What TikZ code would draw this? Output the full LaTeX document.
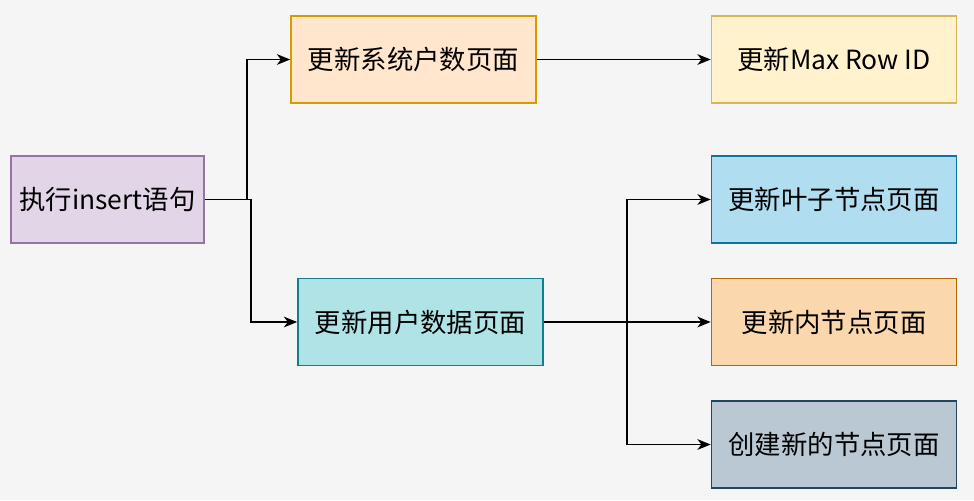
\documentclass[tikz,border=0pt]{standalone}
\usepackage{fontspec}
\setmainfont{Noto Sans CJK SC}
\usetikzlibrary{arrows.meta}
\definecolor{bg}{HTML}{F5F5F5}
\definecolor{pf}{HTML}{E1D5E7}\definecolor{ps}{HTML}{9673A6}
\definecolor{of}{HTML}{FFE6CC}\definecolor{os}{HTML}{D79B00}
\definecolor{yf}{HTML}{FFF2CC}\definecolor{ys}{HTML}{D6B656}
\definecolor{tf}{HTML}{B0E3E6}\definecolor{ts}{HTML}{0E8088}
\definecolor{bf}{HTML}{B1DDF0}\definecolor{bs}{HTML}{10739E}
\definecolor{af}{HTML}{FAD7AC}\definecolor{as}{HTML}{B46504}
\definecolor{gf}{HTML}{BAC8D3}\definecolor{gs}{HTML}{23445D}
\begin{document}
\begin{tikzpicture}[x=0.75pt,y=-0.75pt,
  box/.style={draw=#1s,fill=#1f,line width=1.2pt,minimum width=183.75pt,minimum height=65.25pt,inner sep=0pt,font=\fontsize{19.8}{23}\selectfont},
  conn/.style={line width=1.2pt,-{Stealth[length=10pt,width=8pt,inset=3pt]}}]
\fill[bg] (0,0) rectangle (974,500);
\useasboundingbox (0,0) rectangle (974,500);
\node[box=p,minimum width=144.75pt] (exec) at (107.5,199.5) {执行insert语句};
\node[box=o] (sys) at (413.5,59.5) {更新系统户数页面};
\node[box=y] (max) at (834,59.5) {更新Max Row ID};
\node[box=t] (user) at (420.5,322) {更新用户数据页面};
\node[box=b] (leaf) at (834,199.5) {更新叶子节点页面};
\node[box=a] (inner) at (834,322) {更新内节点页面};
\node[box=g] (new) at (834,444.5) {创建新的节点页面};
\draw[conn] (exec.east) -- (247,199.5) |- (sys.west);
\draw[conn] (exec.east) -- (251,199.5) |- (user.west);
\draw[conn] (sys.east) -- (max.west);
\draw[conn] (user.east) -- (inner.west);
\draw[conn] (user.east) -- (627,322) |- (leaf.west);
\draw[conn] (user.east) -- (627,322) |- (new.west);
\end{tikzpicture}
\end{document}
